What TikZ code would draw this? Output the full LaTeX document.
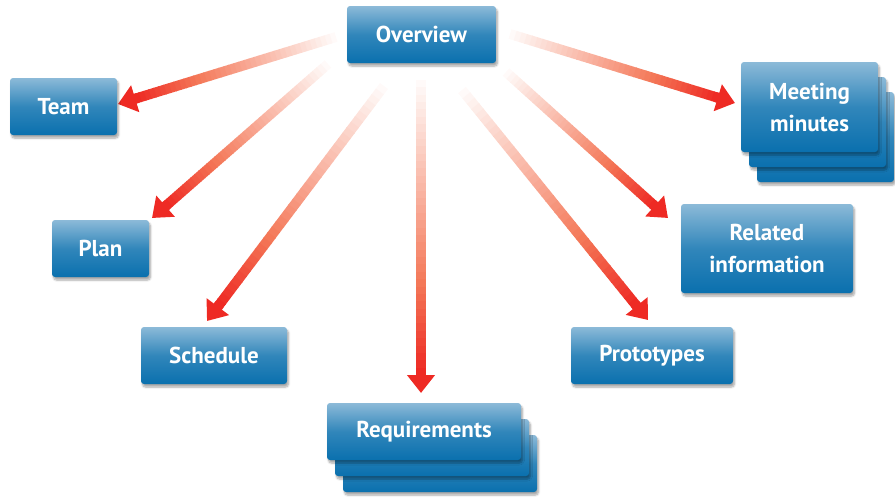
\documentclass[tikz,border=0pt]{standalone}
\usepackage{fontspec}
\setmainfont{PT Sans}
\usetikzlibrary{calc,arrows.meta,shadows.blur}
\definecolor{boxtop}{HTML}{8CBAD8}
\definecolor{boxbot}{HTML}{0A70AE}
\definecolor{arrowred}{HTML}{EE2A24}
\definecolor{arrowsalmon}{HTML}{F47858}
\tikzset{
  boxnode/.style={rectangle, rounded corners=3pt, top color=boxtop, bottom color=boxbot,
    middle color=boxbot!70!boxtop, text=white, font=\bfseries\fontsize{23}{32}\selectfont,
    align=center, inner sep=0pt,
    blur shadow={shadow xshift=1.5pt, shadow yshift=-3pt, shadow blur steps=6, shadow opacity=35}},
  headline/.style={line width=10pt, color=arrowred, -{Triangle[width=27pt,length=18pt]}},
}
\newcommand\gradarrow[2]{%
  \path ($(#2)!18pt!(#1)$) coordinate (tmpE);
  \foreach \i in {1,...,40}{
    \pgfmathsetmacro\pa{(\i-1)/40}
    \pgfmathsetmacro\pb{\i/40+0.003}
    \pgfmathsetmacro\tt{\i/40}
    \ifdim\tt pt<0.7pt
      \pgfmathsetmacro\pc{100*\tt/0.7}
      \draw[line width=10pt, color=arrowsalmon!\pc!white] ($(#1)!\pa!(tmpE)$) -- ($(#1)!\pb!(tmpE)$);
    \else
      \pgfmathsetmacro\pc{100*(\tt-0.7)/0.3}
      \draw[line width=10pt, color=arrowred!\pc!arrowsalmon] ($(#1)!\pa!(tmpE)$) -- ($(#1)!\pb!(tmpE)$);
    \fi
  }
  \draw[headline] ($(#2)!21pt!(#1)$) -- (#2);
}
\begin{document}
\begin{tikzpicture}[x=1pt,y=-1pt]
\useasboundingbox (0,0) rectangle (895,498);
% arrow end points
\coordinate (sTeam) at (336,37);
\coordinate (tTeam) at (118,104);
\coordinate (sPlan) at (328,64);
\coordinate (tPlan) at (152,218);
\coordinate (sSched) at (384,86);
\coordinate (tSched) at (207,321);
\coordinate (sReq) at (421,80);
\coordinate (tReq) at (421,393);
\coordinate (sProto) at (462,90);
\coordinate (tProto) at (648,320);
\coordinate (sRel) at (506,72);
\coordinate (tRel) at (668,218);
\coordinate (sMeet) at (510,34);
\coordinate (tMeet) at (735,103);
\gradarrow{sTeam}{tTeam}
\gradarrow{sPlan}{tPlan}
\gradarrow{sSched}{tSched}
\gradarrow{sReq}{tReq}
\gradarrow{sProto}{tProto}
\gradarrow{sRel}{tRel}
\gradarrow{sMeet}{tMeet}
% boxes
\node[boxnode, minimum width=149pt, minimum height=57pt] (ov) at (421.5,34.5) {Overview};
\node[boxnode, minimum width=107pt, minimum height=57pt] (team) at (63.5,106.5) {Team};
\node[boxnode, minimum width=97pt, minimum height=57pt] (plan) at (100.5,248.5) {Plan};
\node[boxnode, minimum width=146pt, minimum height=57pt] (sched) at (214,355.5) {Schedule};
\node[boxnode, minimum width=194pt, minimum height=57pt] (req3) at (440,463.5) {};
\node[boxnode, minimum width=194pt, minimum height=57pt] (req2) at (432,447.5) {};
\node[boxnode, minimum width=194pt, minimum height=57pt] (req) at (424,431.5) {Requirements};
\node[boxnode, minimum width=137pt, minimum height=90pt] (meet3) at (825.5,137) {};
\node[boxnode, minimum width=137pt, minimum height=90pt] (meet2) at (817.5,122) {};
\node[boxnode, minimum width=137pt, minimum height=90pt] (meet) at (809.5,107) {Meeting\\minutes};
\node[boxnode, minimum width=172pt, minimum height=89pt] (rel) at (767,248.5) {Related\\information};
\node[boxnode, minimum width=162pt, minimum height=57pt] (proto) at (652,355.5) {Prototypes};
\end{tikzpicture}
\end{document}
